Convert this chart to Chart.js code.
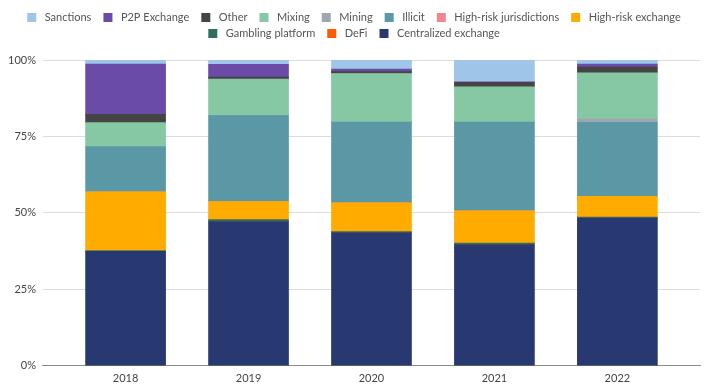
<!DOCTYPE html>
<html>
<head>
<meta charset="utf-8">
<script src="https://cdn.jsdelivr.net/npm/chart.js@4.4.1/dist/chart.umd.min.js"></script>
<style>
  html, body { margin: 0; padding: 0; background: #ffffff; }
  #wrap { width: 724px; height: 391px; }
</style>
</head>
<body>
<div id="wrap"><canvas id="chart"></canvas></div>
<script>
const years = ["2018", "2019", "2020", "2021", "2022"];

// share of funds (%) per category, bottom of the stack first
const centralized = [37.4, 47.2, 43.6, 39.6, 48.3];
const defi = [0, 0, 0, 0, 0];
const gambling = [0.3, 0.6, 0.3, 0.5, 0.3];
const highRiskExchange = [19.2, 5.9, 9.4, 10.6, 6.8];
const highRiskJurisdictions = [0, 0, 0, 0, 0];
const illicit = [14.8, 28.1, 26.4, 29.0, 24.2];
const mining = [0, 0, 0, 0, 1.1];
const mixing = [7.8, 12.0, 15.9, 11.5, 15.1];
const other = [2.7, 0.6, 0.6, 1.5, 1.9];
const p2p = [16.5, 4.2, 0.8, 0.2, 1.0];
const sanctions = [1.3, 1.4, 3.0, 7.1, 1.3];

const yTicks = [0, 25, 50, 75, 100];

const series = [
  { label: "Centralized exchange", values: centralized, color: "#283870" },
  { label: "DeFi", values: defi, color: "#ff5a00" },
  { label: "Gambling platform", values: gambling, color: "#2f6f62" },
  { label: "High-risk exchange", values: highRiskExchange, color: "#ffab00" },
  { label: "High-risk jurisdictions", values: highRiskJurisdictions, color: "#f2868f" },
  { label: "Illicit", values: illicit, color: "#5b98a6" },
  { label: "Mining", values: mining, color: "#9ea7ae" },
  { label: "Mixing", values: mixing, color: "#86c7a4" },
  { label: "Other", values: other, color: "#444444" },
  { label: "P2P Exchange", values: p2p, color: "#6a4ca8" },
  { label: "Sanctions", values: sanctions, color: "#9fc5e8" },
];

// legend marker: 9px square with some empty room on both sides,
// so items can be spaced wider without spreading the two rows apart
const MARK_W = 19;
function legendMark(color) {
  const c = document.createElement("canvas");
  c.width = MARK_W;
  c.height = 9;
  const g = c.getContext("2d");
  g.fillStyle = color;
  g.fillRect(7, 0, 9, 9);
  return c;
}

// push the plot area down below the legend
const legendGap = {
  id: "legendGap",
  beforeInit(chart) {
    const fit = chart.legend.fit;
    chart.legend.fit = function () {
      fit.bind(chart.legend)();
      this.height += 11;
    };
  },
};

const ctx = document.getElementById("chart").getContext("2d");

new Chart(ctx, {
  type: "bar",
  data: {
    datasets: series.map((s) => ({
      label: s.label,
      data: s.values.map((v, i) => ({ x: i, y: v })),
      backgroundColor: s.color,
      borderWidth: 0,
      barThickness: 80,
      pointStyle: legendMark(s.color),
    })),
  },
  plugins: [legendGap],
  options: {
    responsive: true,
    maintainAspectRatio: false,
    animation: false,
    layout: { padding: { top: 7, left: 1, right: 24, bottom: 0 } },
    plugins: {
      legend: {
        position: "top",
        reverse: true,
        labels: {
          usePointStyle: true,
          pointStyleWidth: MARK_W,
          boxHeight: 9,
          padding: 5,
          color: "#555555",
          font: { family: "Lato", size: 11 },
        },
      },
      tooltip: { enabled: false },
    },
    scales: {
      x: {
        type: "linear",
        stacked: true,
        offset: false,
        min: -0.672,
        max: 4.672,
        grid: { display: false, offset: false, drawTicks: false },
        border: { display: true, color: "#8c8c8c", width: 1 },
        ticks: {
          stepSize: 1,
          includeBounds: false,
          maxRotation: 0,
          color: "#444444",
          font: { family: "Lato", size: 11 },
          padding: 6,
          callback: (v) => (Number.isInteger(v) ? years[v] : ""),
        },
      },
      y: {
        stacked: true,
        min: 0,
        max: 100,
        afterBuildTicks: (axis) => {
          axis.ticks = yTicks.map((v) => ({ value: v }));
        },
        grid: { color: "#dcdcdc", drawTicks: false },
        border: { display: false },
        ticks: {
          color: "#444444",
          font: { family: "Lato", size: 11 },
          padding: 7,
          callback: (v) => v + "%",
        },
      },
    },
  },
});
</script>
</body>
</html>
